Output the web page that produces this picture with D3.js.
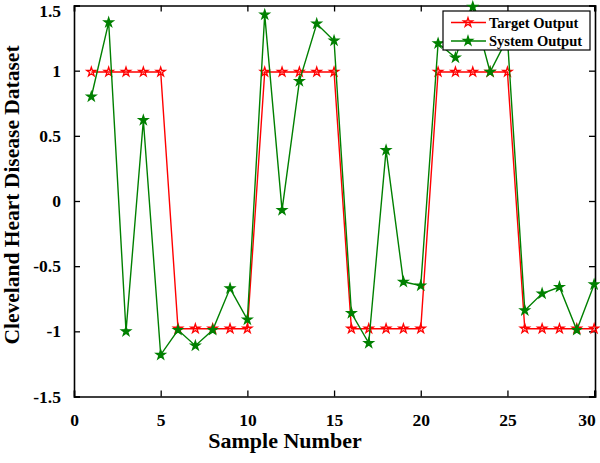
<!DOCTYPE html>
<html><head><meta charset="utf-8">
<script src="https://cdn.jsdelivr.net/npm/d3@7"></script>
<style>body{margin:0;background:#fff}svg{display:block}text{font-family:"Liberation Serif","Times New Roman",serif;font-weight:bold}</style>
</head><body>
<script>
const samples = d3.range(1, 31);
const targetOutput = [0.99,0.99,0.99,0.99,0.99,-0.98,-0.98,-0.98,-0.98,-0.98,0.99,0.99,0.99,0.99,0.99,-0.98,-0.98,-0.98,-0.98,-0.98,0.99,0.99,0.99,0.99,0.99,-0.98,-0.98,-0.98,-0.98,-0.98];
const systemOutput = [0.80,1.37,-1.00,0.62,-1.18,-0.99,-1.11,-0.99,-0.67,-0.91,1.43,-0.07,0.92,1.36,1.23,-0.86,-1.09,0.39,-0.62,-0.65,1.21,1.10,1.49,0.99,1.25,-0.84,-0.71,-0.66,-0.99,-0.64];
const xTicks = [0,5,10,15,20,25,30];
const yTicks = [-1.5,-1,-0.5,0,0.5,1,1.5];
const seriesNames = ["Target Output","System Output"];
const seriesColors = ["#ff0000","#008000"];

const W = 600, H = 463;
const svg = d3.select("body").append("svg").attr("width", W).attr("height", H);
const x = d3.scaleLinear().domain([0, 30.05]).range([74, 595]);
const y = d3.scaleLinear().domain([-1.5, 1.5]).range([396.5, 5.5]);

const fmt = d => String(d);
const gB = svg.append("g").attr("transform", `translate(0,${y(-1.5)})`)
  .call(d3.axisBottom(x).tickValues(xTicks).tickSize(-6).tickPadding(17).tickFormat(fmt));
const gT = svg.append("g").attr("transform", `translate(0,${y(1.5)})`)
  .call(d3.axisTop(x).tickValues(xTicks).tickSize(-6).tickFormat(""));
const gL = svg.append("g").attr("transform", `translate(${x(0)},0)`)
  .call(d3.axisLeft(y).tickValues(yTicks).tickSize(-6).tickPadding(13).tickFormat(fmt));
const gR = svg.append("g").attr("transform", `translate(${x(30.05)},0)`)
  .call(d3.axisRight(y).tickValues(yTicks).tickSize(-6).tickFormat(""));
[gB,gT,gL,gR].forEach(g => {
  g.select(".domain").attr("stroke","#000").attr("stroke-width",1.6);
  g.selectAll(".tick line").attr("stroke","#000").attr("stroke-width",1.3);
  g.selectAll("text").attr("font-size",17.5).attr("fill","#000")
    .style("font-family",'"Liberation Serif",serif').style("font-weight","bold");
});
gB.selectAll(".tick").filter(d => d === 30).select("text").attr("text-anchor","end").attr("dx", 1);
gL.selectAll(".tick").filter(d => d === 1.5).select("text").attr("dy", "0.64em");

const line = d3.line().x((d,i) => x(samples[i])).y(d => y(d));
const star = d3.symbol().type(d3.symbolStar).size(26);
[targetOutput, systemOutput].forEach((vals, k) => {
  svg.append("path").datum(vals).attr("d", line).attr("fill","none")
    .attr("stroke", seriesColors[k]).attr("stroke-width", 1.4);
  svg.append("g").selectAll("path").data(vals).join("path")
    .attr("transform", (d,i) => `translate(${x(samples[i])},${y(d)})`)
    .attr("d", star).attr("fill", k === 0 ? "none" : seriesColors[k])
    .attr("stroke", seriesColors[k]).attr("stroke-width", 1.3);
});

const lg = svg.append("g");
lg.append("rect").attr("x",443).attr("y",11).attr("width",147).attr("height",39)
  .attr("fill","#fff").attr("stroke","#000").attr("stroke-width",1.2);
seriesNames.forEach((n,k) => {
  const yy = 22.5 + k*18.5;
  lg.append("line").attr("x1",451).attr("x2",486).attr("y1",yy).attr("y2",yy)
    .attr("stroke",seriesColors[k]).attr("stroke-width",1.4);
  lg.append("path").attr("transform",`translate(468,${yy})`).attr("d",star)
    .attr("fill", k === 0 ? "none" : seriesColors[k]).attr("stroke",seriesColors[k]).attr("stroke-width",1.3);
  lg.append("text").attr("x",489).attr("y",yy+5).attr("font-size",14.5).text(n);
});

svg.append("text").attr("x",285).attr("y",448).attr("text-anchor","middle")
  .attr("font-size",22).text("Sample Number");
svg.append("text").attr("transform","translate(19,195) rotate(-90)").attr("text-anchor","middle")
  .attr("font-size",21.5).text("Cleveland Heart Disease Dataset");
</script>
</body></html>
